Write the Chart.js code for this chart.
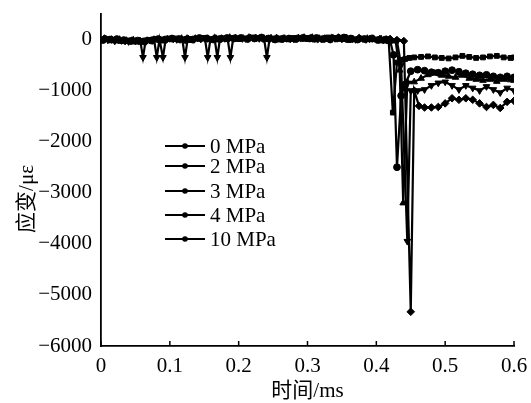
<!DOCTYPE html>
<html>
<head>
<meta charset="utf-8">
<script src="https://cdn.jsdelivr.net/npm/chart.js@4.4.0/dist/chart.umd.min.js"></script>
<style>
html,body{margin:0;padding:0;background:#fff;}
#wrap{width:531px;height:403px;position:relative;}
</style>
</head>
<body>
<div id="wrap"><canvas id="c" width="531" height="403"></canvas></div>
<script>
// ---- data ----
const seriesLabels = ['0 MPa', '2 MPa', '3 MPa', '4 MPa', '10 MPa'];
const xTickValues = [0, 0.1, 0.2, 0.3, 0.4, 0.5, 0.6];
const xTickLabels = ['0', '0.1', '0.2', '0.3', '0.4', '0.5', '0.6'];
const yTickValues = [0, -1000, -2000, -3000, -4000, -5000, -6000];
const yTickLabels = ['0', '\u22121000', '\u22122000', '\u22123000', '\u22124000', '\u22125000', '\u22126000'];
const xTitle = '时间/ms';
const yTitle = '应变/με';

const t0 = [0,0.01,0.02,0.03,0.04,0.05,0.06,0.07,0.08,0.09,0.10,0.11,0.12,0.13,0.14,0.15,0.16,0.17,0.18,0.19,0.20,0.21,0.22,0.23,0.24,0.25,0.26,0.27,0.28,0.29,0.30,0.31,0.32,0.33,0.34,0.35,0.36,0.37,0.38,0.39,0.40,0.41,
  0.418,0.424,0.43,0.436,0.442,0.448,0.455,0.465,0.475,0.485,0.495,0.505,0.515,0.525,0.535,0.545,0.555,0.565,0.575,0.585,0.595,0.60];
const v0 = [0,10,-20,-30,-20,-40,-30,-10,0,-20,10,20,0,-10,20,30,10,0,20,30,10,20,40,30,10,20,0,10,30,20,10,0,20,40,30,10,-10,0,20,10,0,-20,
  -30,-1430,-450,-400,-380,-360,-350,-340,-330,-350,-360,-370,-350,-320,-340,-360,-350,-330,-320,-350,-360,-350];

const t2 = [0.003,0.013,0.023,0.033,0.043,0.053,0.063,0.073,0.083,0.093,0.103,0.113,0.123,0.133,0.143,0.153,0.163,0.173,0.183,0.193,0.203,0.213,0.223,0.233,0.243,0.253,0.263,0.273,0.283,0.293,0.303,0.313,0.323,0.333,0.343,0.353,0.363,0.373,0.383,0.393,0.403,0.413,
  0.42,0.425,0.43,0.436,0.442,0.45,0.46,0.47,0.48,0.49,0.50,0.51,0.52,0.53,0.54,0.55,0.56,0.57,0.58,0.59,0.60];
const v2 = [-10,0,10,-10,-30,-20,-40,-20,10,0,20,10,-10,0,30,20,0,10,30,20,30,10,20,40,20,0,10,20,10,30,20,30,10,0,20,40,20,0,10,20,-10,0,
  -20,-300,-2500,-1100,-880,-620,-590,-610,-640,-650,-620,-600,-630,-660,-680,-700,-690,-720,-740,-720,-740];

const t3 = [0.007,0.017,0.027,0.037,0.047,0.057,0.067,0.077,0.087,0.097,0.107,0.117,0.127,0.137,0.147,0.157,0.167,0.177,0.187,0.197,0.207,0.217,0.227,0.237,0.247,0.257,0.267,0.277,0.287,0.297,0.307,0.317,0.327,0.337,0.347,0.357,0.367,0.377,0.387,0.397,0.407,0.417,
  0.42,0.428,0.434,0.439,0.445,0.455,0.465,0.475,0.485,0.495,0.505,0.515,0.525,0.535,0.545,0.555,0.565,0.575,0.585,0.595,0.60];
const v3 = [10,-10,0,-20,-10,-30,-20,0,-10,10,0,20,10,20,10,0,20,10,40,20,20,30,10,20,30,10,20,0,30,10,40,20,0,30,20,30,0,10,20,0,10,-10,
  0,-30,-600,-3200,-830,-830,-760,-690,-660,-700,-720,-740,-700,-760,-780,-800,-780,-820,-780,-790,-800];

const t4 = [0,0.01,0.02,0.03,0.04,0.05,0.057,0.061,0.065,0.07,0.077,0.081,0.085,0.09,0.094,0.10,0.11,0.118,0.122,0.126,0.13,0.14,0.151,0.155,0.159,0.165,0.169,0.173,0.18,0.184,0.188,0.192,0.20,0.21,0.22,0.23,0.237,0.241,0.245,0.25,0.26,0.27,0.28,0.29,0.30,0.31,0.32,0.33,0.34,0.35,0.36,0.37,0.38,0.39,0.40,0.41,
  0.42,0.43,0.436,0.445,0.45,0.46,0.47,0.48,0.49,0.50,0.51,0.52,0.53,0.54,0.55,0.56,0.57,0.58,0.59,0.60];
const v4 = [0,-10,-30,-20,-40,-30,-20,-350,-10,0,10,-350,0,-350,10,20,0,10,-350,20,10,30,20,-350,10,20,-350,30,20,10,-350,20,30,20,40,20,10,-350,20,10,30,20,10,30,40,20,10,30,20,10,30,0,20,10,0,-10,
  -20,-30,-500,-3950,-1000,-1000,-980,-900,-850,-830,-900,-980,-900,-950,-1000,-920,-980,-1040,-950,-1000];

const t10 = [0.005,0.015,0.025,0.035,0.045,0.055,0.065,0.075,0.085,0.095,0.105,0.115,0.125,0.135,0.145,0.155,0.165,0.175,0.185,0.195,0.205,0.215,0.225,0.235,0.245,0.255,0.265,0.275,0.285,0.295,0.305,0.315,0.325,0.335,0.345,0.355,0.365,0.375,0.385,0.395,0.405,0.415,
  0.42,0.43,0.44,0.45,0.455,0.462,0.47,0.48,0.49,0.50,0.51,0.52,0.53,0.54,0.55,0.56,0.57,0.58,0.59,0.60];
const v10 = [20,0,-10,-30,-20,-30,-40,-20,-10,0,10,0,20,0,10,20,30,20,10,30,20,40,30,20,10,30,20,10,20,40,30,10,20,30,40,20,10,30,0,20,10,0,
  10,-10,-30,-5330,-1000,-1300,-1330,-1330,-1320,-1250,-1150,-1180,-1150,-1180,-1250,-1320,-1280,-1340,-1220,-1200];

// ---- chart ----
const FONT = '"Liberation Serif", "Noto Sans CJK SC", serif';
const seriesT = [t0, t2, t3, t4, t10];
const seriesV = [v0, v2, v3, v4, v10];
const styles = [
  {pointStyle: 'rect', r: 3.4, rot: 0},
  {pointStyle: 'circle', r: 3.4, rot: 0},
  {pointStyle: 'triangle', r: 3.8, rot: 0},
  {pointStyle: 'triangle', r: 3.8, rot: 180},
  {pointStyle: 'rectRot', r: 3.8, rot: 0}
];

const datasets = seriesLabels.map((lab, i) => ({
  label: lab,
  data: seriesT[i].map((x, j) => ({x: x, y: seriesV[i][j]})),
  borderColor: '#000',
  backgroundColor: '#000',
  borderWidth: 2.2,
  pointStyle: styles[i].pointStyle,
  pointRadius: styles[i].r,
  pointRotation: styles[i].rot,
  pointBorderWidth: 1,
  pointBackgroundColor: '#000',
  pointBorderColor: '#000',
  tension: 0,
  fill: false
}));

const legendRows = [146, 166, 191, 215, 239];
const customLegend = {
  id: 'customLegend',
  afterDraw(chart) {
    const ctx = chart.ctx;
    ctx.save();
    chart.data.datasets.forEach((ds, i) => {
      const y = legendRows[i];
      ctx.strokeStyle = '#000';
      ctx.lineWidth = 2;
      ctx.beginPath();
      ctx.moveTo(165, y);
      ctx.lineTo(205, y);
      ctx.stroke();
      ctx.fillStyle = '#000';
      ctx.beginPath();
      ctx.arc(185, y, 2.8, 0, Math.PI * 2);
      ctx.fill();
      ctx.font = '21px ' + FONT;
      ctx.textBaseline = 'middle';
      ctx.textAlign = 'left';
      ctx.fillText(ds.label, 210, y + 1);
    });
    ctx.restore();
  }
};

const extras = {
  id: 'extras',
  afterDraw(chart) {
    const ctx = chart.ctx;
    const xs = chart.scales.x;
    const area = chart.chartArea;
    ctx.save();
    ctx.strokeStyle = '#000';
    ctx.lineWidth = 1.5;
    xTickValues.forEach(v => {
      const px = xs.getPixelForValue(v);
      ctx.beginPath();
      ctx.moveTo(px, area.bottom);
      ctx.lineTo(px, area.bottom - 5);
      ctx.stroke();
    });
    ctx.fillStyle = '#000';
    ctx.font = '21px ' + FONT;
    ctx.textAlign = 'center';
    ctx.textBaseline = 'middle';
    // x-axis title
    ctx.fillText(xTitle, (area.left + area.right) / 2, 391);
    // y-axis title
    ctx.translate(27, 199);
    ctx.rotate(-Math.PI / 2);
    ctx.fillText(yTitle, 0, 0);
    ctx.restore();
  }
};

new Chart(document.getElementById('c'), {
  type: 'line',
  data: {datasets: datasets},
  options: {
    responsive: false,
    animation: false,
    layout: {padding: {top: 14, right: 17, left: 0, bottom: 0}},
    plugins: {legend: {display: false}, tooltip: {enabled: false}},
    scales: {
      x: {
        type: 'linear',
        min: 0, max: 0.6,
        grid: {display: false, drawTicks: false},
        border: {display: true, color: '#000', width: 1.8},
        afterBuildTicks(scale) { scale.ticks = xTickValues.map(v => ({value: v})); },
        afterFit(scale) { scale.height = 57; scale.paddingLeft = 0; scale.paddingRight = 0; },
        ticks: {
          color: '#000', padding: 8, maxRotation: 0, autoSkip: false,
          font: {family: FONT, size: 21},
          callback(value, index) { return xTickLabels[index]; }
        },
        title: {display: false}
      },
      y: {
        type: 'linear',
        min: -6000, max: 500,
        grid: {display: false, drawTicks: false},
        border: {display: true, color: '#000', width: 1.8},
        afterBuildTicks(scale) { scale.ticks = yTickValues.map(v => ({value: v})); },
        afterFit(scale) { scale.width = 101; scale.paddingTop = 0; scale.paddingBottom = 0; },
        ticks: {
          color: '#000', padding: 9, autoSkip: false,
          font: {family: FONT, size: 21},
          callback(value, index) { return yTickLabels[index]; }
        },
        title: {display: false}
      }
    }
  },
  plugins: [customLegend, extras]
});
</script>
</body>
</html>
